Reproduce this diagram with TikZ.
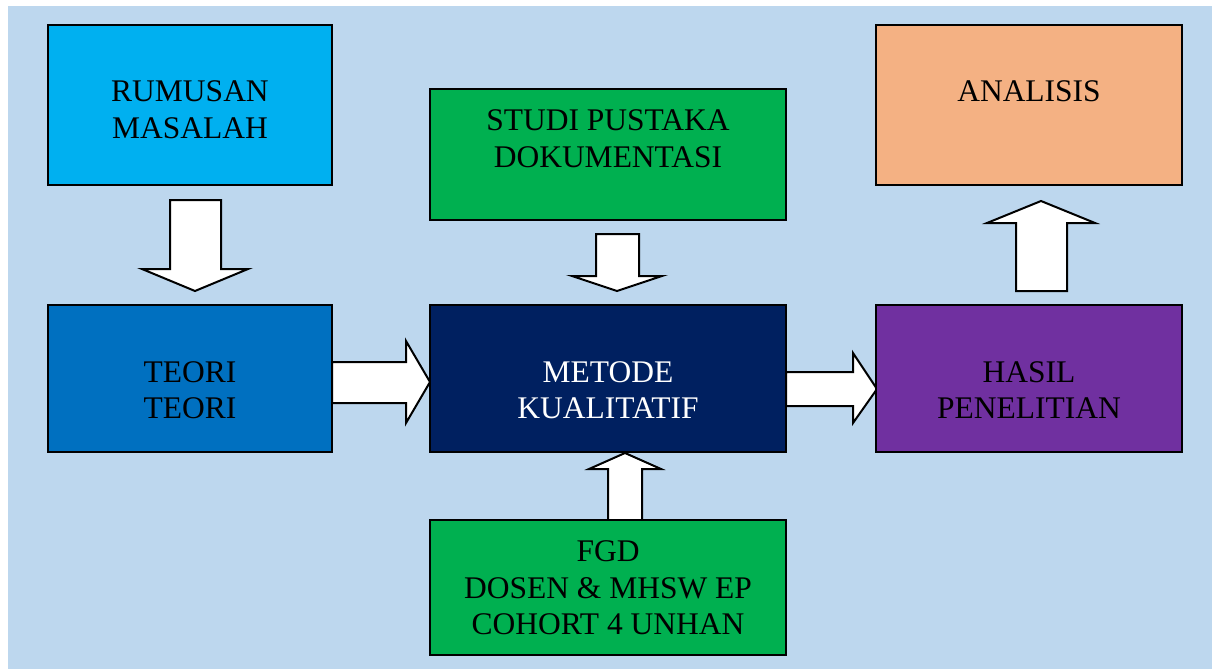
\documentclass[tikz,border=0pt]{standalone}
\usepackage{fontspec}
\setmainfont{Liberation Serif}
\definecolor{bgblue}{HTML}{BDD7EE}
\definecolor{cRM}{HTML}{00B0F0}
\definecolor{cGR}{HTML}{00B050}
\definecolor{cAN}{HTML}{F4B183}
\definecolor{cTE}{HTML}{0070C0}
\definecolor{cME}{HTML}{002060}
\definecolor{cHA}{HTML}{7030A0}
\begin{document}
\begin{tikzpicture}[x=1pt,y=-1pt,
  box/.style={draw=black,line width=2pt,inner sep=0pt,rectangle},
  lbl/.style={anchor=base,inner sep=0pt,font=\fontsize{31.5}{37}\selectfont},
  blockarrow/.style={draw=black,fill=white,line width=2pt,line join=miter}]
\useasboundingbox[fill=white] (0,0) rectangle (1214,669);
\fill[bgblue] (8,6) rectangle (1212,669);
% block arrows
\draw[blockarrow] (170,200) -- (221,200) -- (221,269) -- (248,269) -- (195,291) -- (142,269) -- (170,269) -- cycle;
\draw[blockarrow] (332,362) -- (406,362) -- (406,341) -- (430,382) -- (406,423) -- (406,403) -- (332,403) -- cycle;
\draw[blockarrow] (596,234) -- (639,234) -- (639,276) -- (662,276) -- (617,291) -- (572,276) -- (596,276) -- cycle;
\draw[blockarrow] (608,520) -- (642,520) -- (642,469) -- (661,469) -- (625,453) -- (589,469) -- (608,469) -- cycle;
\draw[blockarrow] (786,372) -- (853,372) -- (853,353) -- (877,389) -- (853,423) -- (853,406) -- (786,406) -- cycle;
\draw[blockarrow] (1016,291) -- (1067,291) -- (1067,223) -- (1095,223) -- (1041,201) -- (987,223) -- (1016,223) -- cycle;
% boxes
\node[box,fill=cRM,minimum width=284pt,minimum height=160pt] (rm) at (190,105) {};
\node[box,fill=cGR,minimum width=356pt,minimum height=131pt] (sp) at (608,154.5) {};
\node[box,fill=cAN,minimum width=306pt,minimum height=160pt] (an) at (1029,105) {};
\node[box,fill=cTE,minimum width=284pt,minimum height=147pt] (te) at (190,378.5) {};
\node[box,fill=cME,minimum width=356pt,minimum height=147pt] (me) at (608,378.5) {};
\node[box,fill=cHA,minimum width=306pt,minimum height=147pt] (ha) at (1029,378.5) {};
\node[box,fill=cGR,minimum width=356pt,minimum height=135pt] (fg) at (608,587.5) {};
% labels
\node[lbl] (rm1) at (190,101) {RUMUSAN};
\node[lbl] (rm2) at (190,138) {MASALAH};
\node[lbl] (sp1) at (608,130) {STUDI PUSTAKA};
\node[lbl] (sp2) at (608,167) {DOKUMENTASI};
\node[lbl] (an1) at (1029,101) {ANALISIS};
\node[lbl] (te1) at (190,382) {TEORI};
\node[lbl] (te2) at (190,418) {TEORI};
\node[lbl,text=white] (me1) at (608,382) {METODE};
\node[lbl,text=white] (me2) at (608,418) {KUALITATIF};
\node[lbl] (ha1) at (1029,382) {HASIL};
\node[lbl] (ha2) at (1029,418) {PENELITIAN};
\node[lbl] (fg1) at (608,561) {FGD};
\node[lbl] (fg2) at (608,598) {DOSEN \& MHSW EP};
\node[lbl] (fg3) at (608,634) {COHORT 4 UNHAN};
\end{tikzpicture}
\end{document}
